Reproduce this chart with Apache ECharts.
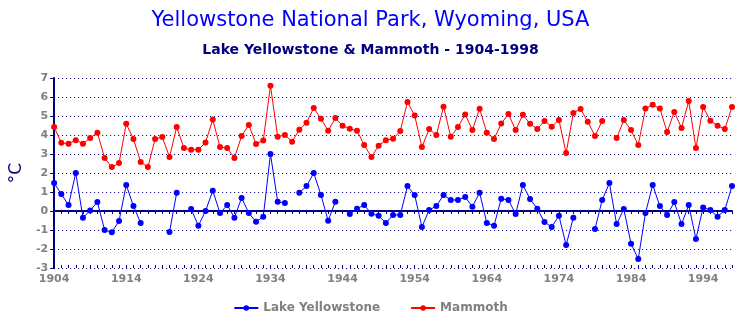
<!DOCTYPE html>
<html>
<head>
<meta charset="utf-8">
<title>Yellowstone</title>
<script src="https://cdn.jsdelivr.net/npm/echarts@6/dist/echarts.min.js"></script>
<style>
  html, body { margin: 0; padding: 0; background: #fff; }
  #chart { width: 741px; height: 320px; }
</style>
</head>
<body>
<div id="chart"></div>
<script>
var years = [];
for (var y = 1904; y <= 1998; y++) years.push(String(y));

// Lake Yellowstone, 1904-1998 (null = no data)
var lake = [
  1.47, 0.89, 0.31, 2.0, -0.35, 0.03, 0.47, -1.0, -1.12, -0.53,
  1.37, 0.26, -0.63, null, null, null, -1.1, 0.96, null, 0.10,
  -0.77, 0.0, 1.07, -0.11, 0.31, -0.35, 0.69, -0.11, -0.57, -0.3,
  3.0, 0.49, 0.42, null, 0.96, 1.31, 2.0, 0.84, -0.51, 0.49,
  null, -0.16, 0.12, 0.31, -0.14, -0.25, -0.63, -0.21, -0.21, 1.31,
  0.84, -0.84, 0.05, 0.26, 0.84, 0.58, 0.58, 0.74, 0.23, 0.96,
  -0.63, -0.77, 0.65, 0.58, -0.16, 1.37, 0.63, 0.12, -0.58, -0.84,
  -0.25, -1.79, -0.35, null, null, -0.95, 0.58, 1.47, -0.69, 0.10,
  -1.72, -2.53, -0.11, 1.37, 0.26, -0.21, 0.47, -0.69, 0.31, -1.47,
  0.19, 0.05, -0.30, 0.05, 1.31
];

// Mammoth, 1904-1998
var mammoth = [
  4.42, 3.59, 3.54, 3.73, 3.54, 3.84, 4.12, 2.79, 2.31, 2.52,
  4.59, 3.79, 2.58, 2.31, 3.79, 3.89, 2.84, 4.42, 3.31, 3.23,
  3.23, 3.61, 4.81, 3.37, 3.31, 2.79, 3.95, 4.53, 3.53, 3.71,
  6.59, 3.91, 4.0, 3.65, 4.28, 4.65, 5.42, 4.86, 4.23, 4.89,
  4.49, 4.33, 4.23, 3.47, 2.84, 3.44, 3.73, 3.80, 4.21, 5.74,
  5.02, 3.37, 4.31, 4.0, 5.49, 3.91, 4.42, 5.08, 4.26, 5.38,
  4.12, 3.79, 4.6, 5.10, 4.26, 5.07, 4.59, 4.31, 4.74, 4.44,
  4.79, 3.05, 5.16, 5.37, 4.70, 3.95, 4.74, null, 3.84, 4.79,
  4.26, 3.47, 5.39, 5.59, 5.39, 4.16, 5.21, 4.37, 5.79, 3.31,
  5.47, 4.75, 4.49, 4.31, 5.47
];

var chart = echarts.init(document.getElementById('chart'));

var gray = '#808080';
var navy = '#000080';
var labelFont = { color: gray, fontWeight: 'bold', fontSize: 11, fontFamily: 'DejaVu Sans' };

var option = {
  backgroundColor: '#fff',
  animation: false,
  title: [{
    text: 'Yellowstone National Park, Wyoming, USA',
    left: 'center',
    top: 5,
    textStyle: { color: '#0000ff', fontSize: 21, fontWeight: 'normal', fontFamily: 'DejaVu Sans' }
  }, {
    text: 'Lake Yellowstone & Mammoth - 1904-1998',
    left: 'center',
    top: 38,
    textStyle: { color: navy, fontSize: 14, fontWeight: 'bold', fontFamily: 'DejaVu Sans' }
  }],
  legend: {
    bottom: 1,
    left: 'center',
    itemGap: 30,
    itemWidth: 24,
    itemHeight: 7,
    textStyle: { color: gray, fontWeight: 'bold', fontSize: 12, fontFamily: 'DejaVu Sans' },
    data: ['Lake Yellowstone', 'Mammoth']
  },
  grid: { left: 52, right: 9, top: 78, bottom: 52 },
  xAxis: [{
    type: 'category',
    data: years,
    boundaryGap: false,
    position: 'bottom',
    axisLine: { show: false, onZero: false },
    axisTick: { show: false },
    axisLabel: { interval: 9, margin: 6, ...labelFont },
    splitLine: { show: false }
  }, {
    type: 'category',
    data: years,
    boundaryGap: false,
    position: 'bottom',
    axisLine: { show: true, onZero: true, lineStyle: { color: navy, width: 2 } },
    axisTick: { show: true, interval: 0, length: 3, lineStyle: { color: navy } },
    axisLabel: { show: false }
  }, {
    type: 'category',
    data: years,
    boundaryGap: false,
    position: 'bottom',
    axisLine: { show: false, onZero: true },
    axisTick: { show: true, inside: true, interval: 0, length: 3, lineStyle: { color: navy } },
    axisLabel: { show: false }
  }],
  yAxis: {
    type: 'value',
    min: -3,
    max: 7,
    interval: 1,
    name: '°C',
    nameLocation: 'middle',
    nameRotate: 90,
    nameGap: 24,
    nameTextStyle: { color: navy, fontSize: 17, fontFamily: 'DejaVu Sans' },
    axisLine: { show: true, lineStyle: { color: navy, width: 2 } },
    axisTick: { show: true, length: 4, lineStyle: { color: navy } },
    axisLabel: { margin: 6, ...labelFont },
    splitLine: { show: true, lineStyle: { color: navy, type: [1, 3], width: 1 } }
  },
  series: [{
    name: 'Lake Yellowstone',
    type: 'line',
    data: lake,
    symbol: 'circle',
    symbolSize: 6,
    showAllSymbol: true,
    itemStyle: { color: '#0000ff' },
    lineStyle: { color: '#0000ff', width: 1 }
  }, {
    name: 'Mammoth',
    type: 'line',
    data: mammoth,
    symbol: 'circle',
    symbolSize: 6,
    showAllSymbol: true,
    itemStyle: { color: '#ff0000' },
    lineStyle: { color: '#ff0000', width: 1 }
  }]
};

chart.setOption(option);
</script>
</body>
</html>
